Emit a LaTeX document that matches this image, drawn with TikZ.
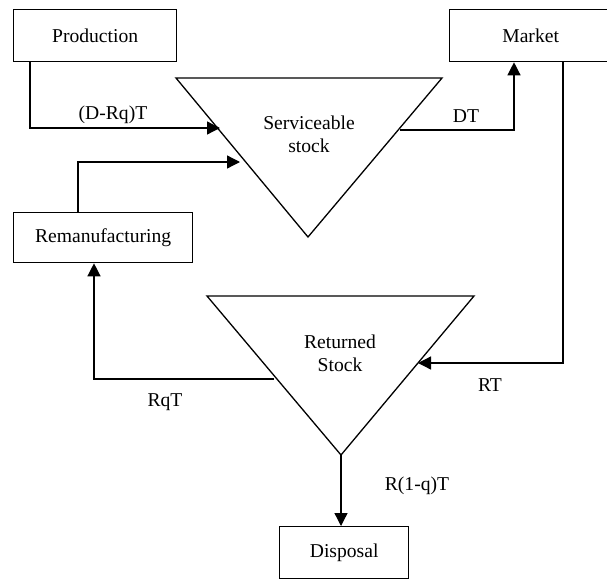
\documentclass[tikz,border=0pt]{standalone}
\usepackage{fontspec}
\setmainfont{Liberation Serif}
\usetikzlibrary{arrows.meta,calc}
\begin{document}
\begin{tikzpicture}[x=1pt,y=-1pt,
  font=\fontsize{19.6}{23}\selectfont,
  box/.style={draw,line width=1.3pt,rectangle,inner sep=0pt,anchor=north west},
  tri/.style={draw,line width=1.3pt,line join=miter},
  conn/.style={line width=1.3pt},
  arr/.style={conn,-{Triangle[length=13pt,width=13pt]}},
  lbl/.style={inner sep=0pt},
  tritext/.style={inner sep=0pt,align=center}]
\useasboundingbox (0,0) rectangle (607,579);
% boxes
\node[box,minimum width=163pt,minimum height=52pt] (prod) at (13,9) {Production};
\node[box,minimum width=162pt,minimum height=52pt] (market) at (449,9) {Market};
\node[box,minimum width=179pt,minimum height=50pt] (rem) at (13,212) {Remanufacturing};
\node[box,minimum width=129pt,minimum height=52pt] (disp) at (279,526) {Disposal};
% triangles
\coordinate (t1a) at (176,78);
\coordinate (t1b) at (442,78);
\coordinate (t1c) at (308,237);
\draw[tri] (t1a) -- (t1b) -- (t1c) -- cycle;
\node[tritext] (serv) at (309,134) {Serviceable\\stock};
\coordinate (t2a) at (207,296);
\coordinate (t2b) at (474,296);
\coordinate (t2c) at (341,455);
\draw[tri] (t2a) -- (t2b) -- (t2c) -- cycle;
\node[tritext] (ret) at (340,353) {Returned\\Stock};
% connector end points on triangle edges
\coordinate (e1) at (220,128);
\coordinate (e2) at (240,162);
\coordinate (e3) at (400,130);
\coordinate (e4) at (418,363);
\coordinate (e5) at (274,379);
% connectors
\draw[arr] ($(prod.south west)+(17,0)$) |- (e1);
\draw[arr] ($(rem.north west)+(65,0)$) |- (e2);
\draw[arr] (e3) -| ($(market.south west)+(65,0)$);
\draw[arr] ($(market.south west)+(114,0)$) |- (e4);
\draw[arr] (e5) -| ($(rem.south west)+(81,0)$);
\draw[arr] (t2c) -- (t2c |- disp.north);
% labels
\node[lbl] (l1) at (113,115) {(D-Rq)T};
\node[lbl] (l2) at (466,116) {DT};
\node[lbl] (l3) at (490,385) {RT};
\node[lbl] (l4) at (165,402) {RqT};
\node[lbl] (l5) at (417,486) {R(1-q)T};
\end{tikzpicture}
\end{document}
